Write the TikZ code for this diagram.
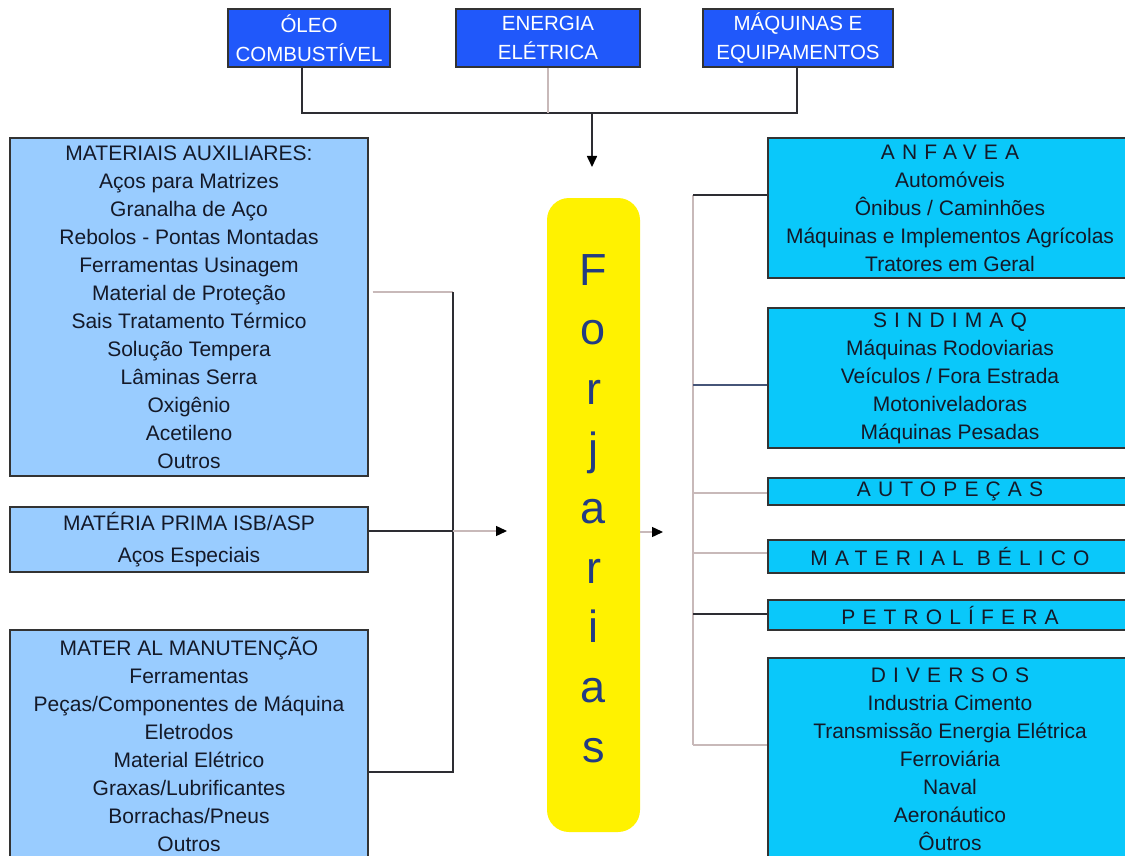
\documentclass[tikz,border=0pt]{standalone}
\usepackage{fontspec}
\setmainfont{Liberation Sans}
\usetikzlibrary{arrows.meta}
\definecolor{topblue}{RGB}{32,88,250}
\definecolor{leftblue}{RGB}{153,204,255}
\definecolor{rightcyan}{RGB}{10,200,250}
\definecolor{forjtext}{RGB}{35,60,130}
\definecolor{darkline}{RGB}{45,45,50}
\definecolor{lightline}{RGB}{200,185,185}
\definecolor{blueline}{RGB}{70,85,120}
\definecolor{boxtext}{RGB}{20,25,40}
\newcommand\sptitle[1]{{\addfontfeature{LetterSpace=34}#1}}
\begin{document}
\begin{tikzpicture}[x=1pt,y=-1pt,
  box/.style={draw=black!80, line width=1.3pt, inner sep=0pt, align=center,
    text=boxtext, font=\fontsize{21}{28}\selectfont},
  topbox/.style={box, fill=topblue, text=white, font=\fontsize{20.5}{29}\selectfont},
  leftbox/.style={box, fill=leftblue, minimum width=358pt},
  rightbox/.style={box, fill=rightcyan, minimum width=364pt},
  dk/.style={draw=darkline, line width=1.6pt},
  lt/.style={draw=lightline, line width=1.4pt},
  bl/.style={draw=blueline, line width=1.4pt},
  tip/.style={-{Triangle[length=11pt,width=10pt,color=black]}}
]
\useasboundingbox (0,0) rectangle (1125,856);
\fill[white] (0,0) rectangle (1125,856);

% top boxes
\node[topbox, minimum width=162pt, minimum height=58pt] (oleo) at (309,38) {ÓLEO\\COMBUSTÍVEL};
\node[topbox, minimum width=184pt, minimum height=58pt] (energia) at (548,38) {ENERGIA\\ELÉTRICA};
\node[topbox, minimum width=190pt, minimum height=58pt] (maq) at (798,38) {MÁQUINAS E\\EQUIPAMENTOS};

% left boxes
\node[leftbox, minimum height=338pt] (aux) at (189,307) {MATERIAIS AUXILIARES:\\Aços para Matrizes\\Granalha de Aço\\Rebolos - Pontas Montadas\\Ferramentas Usinagem\\Material de Proteção\\Sais Tratamento Térmico\\Solução Tempera\\Lâminas Serra\\Oxigênio\\Acetileno\\Outros};
\node[leftbox, minimum height=65pt, font=\fontsize{21}{32}\selectfont] (prima) at (189,539.5) {MATÉRIA PRIMA ISB/ASP\\Aços Especiais};
\node[leftbox, minimum height=228pt] (manut) at (189,744) {MATER AL MANUTENÇÃO\\Ferramentas\\Peças/Componentes de Máquina\\Eletrodos\\Material Elétrico\\Graxas/Lubrificantes\\Borrachas/Pneus\\Outros};

% center
\node[fill=yellow, rounded corners=22pt, minimum width=93pt, minimum height=634pt, inner sep=0pt] (forj) at (593.5,515) {};
\node[text=forjtext, font=\fontsize{45}{59.6}\selectfont, align=center, inner sep=0pt] (forjtxt) at (593.5,508.5) {F\\o\\r\\j\\a\\r\\i\\a\\s};

% right boxes
\node[rightbox, minimum height=140pt] (anf) at (950,208) {\sptitle{ANFAVEA}\\Automóveis\\Ônibus / Caminhões\\Máquinas e Implementos Agrícolas\\Tratores em Geral};
\node[rightbox, minimum height=140pt] (sind) at (950,378) {\sptitle{SINDIMAQ}\\Máquinas Rodoviarias\\Veículos / Fora Estrada\\Motoniveladoras\\Máquinas Pesadas};
\node[rightbox, minimum height=27pt] (auto) at (950,491.5) {\sptitle{AUTOPEÇAS}};
\node[rightbox, minimum height=33pt] (belico) at (950,556.5) {\sptitle{MATERIAL BÉLICO}};
\node[rightbox, minimum height=30pt] (petro) at (950,615) {\sptitle{PETROLÍFERA}};
\node[rightbox, minimum height=202pt] (div) at (950,759) {\sptitle{DIVERSOS}\\Industria Cimento\\Transmissão Energia Elétrica\\Ferroviária\\Naval\\Aeronáutico\\Ôutros};

% top connectors
\coordinate (tbarL) at (302,113);
\coordinate (tbarR) at (797,113);
\coordinate (tbarM) at (592,113);
\coordinate (forjtop) at (592,167);
\draw[dk] (oleo.south -| tbarL) -- (tbarL) -- (tbarR) -- (maq.south -| tbarR);
\draw[lt] (energia.south) -- (energia.south |- tbarL);
\draw[dk, tip] (tbarM) -- (forjtop);

% left connectors
\coordinate (busT) at (453,292);
\coordinate (busM) at (453,531);
\coordinate (busB) at (453,772);
\coordinate (forjin) at (507,531);
\draw[lt] ([xshift=4pt]aux.east |- busT) -- (busT);
\draw[dk] (busT) -- (busB) -- (manut.east |- busB);
\draw[dk] (prima.east |- busM) -- (busM);
\draw[lt, tip] (busM) -- (forjin);

% right connectors
\coordinate (forjout) at (663,532);
\draw[lt, tip] (forj.east |- forjout) -- (forjout);
\coordinate (rb1) at (693,195);
\coordinate (rb2) at (693,385);
\coordinate (rb3) at (693,493);
\coordinate (rb4) at (693,553);
\coordinate (rb5) at (693,614);
\coordinate (rb6) at (693,745);
\draw[lt] (rb1) -- (rb6);
\draw[dk] (rb1) -- (anf.west |- rb1);
\draw[bl] (rb2) -- (sind.west |- rb2);
\draw[lt] (rb3) -- (auto.west |- rb3);
\draw[lt] (rb4) -- (belico.west |- rb4);
\draw[dk] (rb5) -- (petro.west |- rb5);
\draw[lt] (rb6) -- (div.west |- rb6);
\end{tikzpicture}
\end{document}
